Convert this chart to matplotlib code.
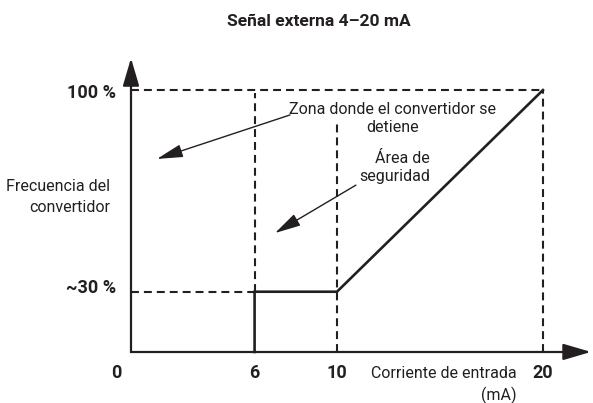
import numpy as np
import matplotlib.pyplot as plt

plt.rcParams['font.family'] = ['Roboto', 'DejaVu Sans']

# data
ma_ticks = [0, 6, 10, 20]
ma_tick_labels = ['0', '6', '10', '20']
freq_levels = [23, 100]            # plotted height of the two levels (%)
freq_labels = ['~30 %', '100 %']
curve_ma = [6, 6, 10, 20]
curve_freq = [0, 23, 23, 100]
guide10_top = 88                   # dashed guide at 10 mA stops here

ink = '#231f20'
dash = (0, (3.8, 2.4))

fig = plt.figure(figsize=(5.93, 4.03), dpi=100)
ax = fig.add_axes([0, 0, 1, 1])
ax.set_xlim(-6.36, 22.43)
ax.set_ylim(-19.5, 134.4)
ax.axis('off')

low, top = freq_levels
x6, x10, x20 = ma_ticks[1], ma_ticks[2], ma_ticks[3]

# dashed guides
ax.plot([0, x20], [top, top], ls=dash, lw=1.5, color=ink)
ax.plot([x20, x20], [0, top], ls=dash, lw=1.5, color=ink)
ax.plot([x6, x6], [low, top - 1.2], ls=dash, lw=1.5, color=ink)
ax.plot([x10, x10], [0, guide10_top], ls=dash, lw=1.5, color=ink)
ax.plot([0, x6], [low, low], ls=dash, lw=1.5, color=ink)

# converter curve
ax.plot(curve_ma, curve_freq, lw=1.9, color=ink, solid_joinstyle='miter')

# axes with arrows
ax.plot([0, 0, 21.5], [105, 0, 0], lw=1.6, color=ink, solid_joinstyle='miter')
head = dict(arrowstyle='-|>,head_length=0.85,head_width=0.25', mutation_scale=20,
            lw=1.6, color=ink, shrinkA=0, shrinkB=0)
ax.annotate('', xy=(0, 112.2), xytext=(0, 104), arrowprops=head)
ax.annotate('', xy=(22.33, 0), xytext=(21.4, 0), arrowprops=head)

# tick labels
for x, lab in zip(ma_ticks, ma_tick_labels):
    dx = -15 if x == 0 else 0
    ax.annotate(lab, (x, 0), xytext=(dx, -21), textcoords='offset pixels',
                ha='center', va='center', fontsize=13, fontweight='bold', color=ink)
for y, lab, dy in zip(freq_levels, freq_labels, [4, -3]):
    ax.annotate(lab, (0, y), xytext=(-15, dy), textcoords='offset pixels',
                ha='right', va='center', fontsize=13, fontweight='bold', color=ink)

# axis titles
ax.text(18.74, -12.6, 'Corriente de entrada\n(mA)', ha='right', va='center',
        multialignment='right', fontsize=11.5, color=ink, linespacing=1.45)
ax.text(-1.02, 59.2, 'Frecuencia del\nconvertidor', ha='right', va='center',
        multialignment='right', fontsize=11.5, color=ink, linespacing=1.45)

# notes with arrows
thin = dict(arrowstyle='-|>,head_length=0.8,head_width=0.2', mutation_scale=20,
            lw=1.0, color=ink, shrinkA=0, shrinkB=0)
ax.text(12.72, 89.1, 'Zona donde el convertidor se\ndetiene', ha='center', va='center',
        fontsize=11.5, color=ink, linespacing=1.3)
ax.annotate('', xy=(1.26, 73.7), xytext=(7.72, 90.5), arrowprops=thin)
ax.text(14.51, 70.4, 'Área de\nseguridad', ha='right', va='center',
        multialignment='right', fontsize=11.5, color=ink, linespacing=1.3)
ax.annotate('', xy=(6.99, 45.4), xytext=(10.92, 63.7), arrowprops=thin)

fig.text(0.538, 0.947, 'Señal externa 4–20 mA', ha='center', va='center',
         fontsize=12.5, fontweight='bold', color=ink)

fig.savefig('out.png', dpi=100)
